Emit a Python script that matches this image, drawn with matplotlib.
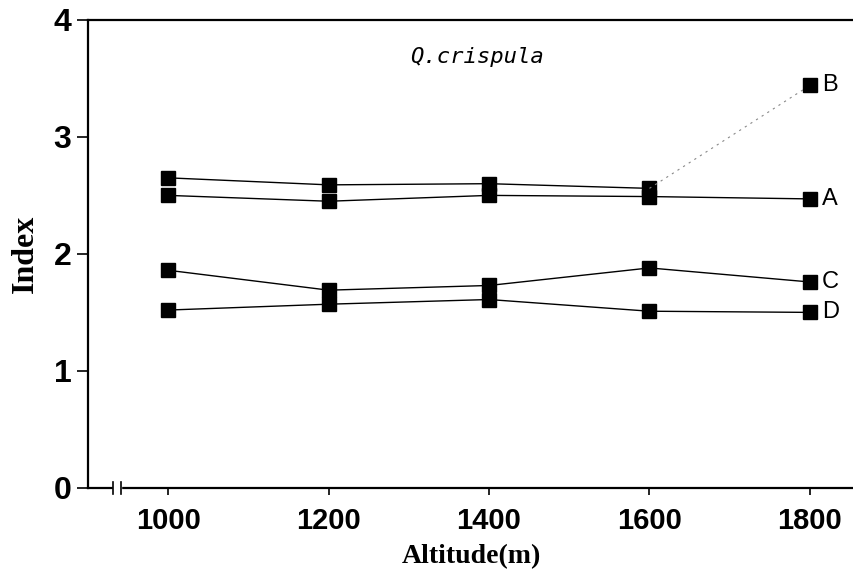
import matplotlib.pyplot as plt

# Altitude values and index series
altitude = [1000, 1200, 1400, 1600, 1800]
series_a = [2.50, 2.45, 2.50, 2.49, 2.47]
series_b = [2.65, 2.59, 2.60, 2.56, 3.44]
series_c = [1.86, 1.69, 1.73, 1.88, 1.76]
series_d = [1.52, 1.57, 1.61, 1.51, 1.50]
labels = ["A", "B", "C", "D"]

fig = plt.figure(figsize=(8.54, 5.85), dpi=100)
ax = fig.add_axes([0.103, 0.166, 0.897, 0.800])

mk = dict(marker="s", markersize=10, color="black", linewidth=1.0)

ax.plot(altitude, series_a, **mk)
# B: solid up to 1600, then faint dotted to 1800
ax.plot(altitude[:4], series_b[:4], **mk)
ax.plot(altitude[3:], series_b[3:], color="#888888", linestyle=(0, (2, 4)), linewidth=0.8)
ax.plot(altitude[4:], series_b[4:], marker="s", markersize=10, color="black", linestyle="none")
ax.plot(altitude, series_c, **mk)
ax.plot(altitude, series_d, **mk)

for lab, ser in zip(labels, [series_a, series_b, series_c, series_d]):
    ax.text(altitude[-1] + 15, ser[-1], lab, fontsize=17,
            family="Liberation Sans", va="center", ha="left")

ax.text(1385, 3.68, "Q.crispula", fontsize=16, family="DejaVu Sans Mono",
        style="italic", ha="center", va="center")

ax.set_xlim(900, 1855)
ax.set_ylim(0, 4)
ax.set_xticks(altitude)
ax.set_yticks([0, 1, 2, 3, 4])

ax.spines["right"].set_visible(False)
for s in ["left", "bottom", "top"]:
    ax.spines[s].set_linewidth(1.6)

ax.tick_params(axis="y", direction="out", length=8, width=1.2, pad=4)
ax.tick_params(axis="x", direction="out", length=5, width=1.2, pad=9)
for t in ax.get_yticklabels():
    t.set_fontweight("bold")
    t.set_family("Liberation Sans")
    t.set_fontsize(23)
for t in ax.get_xticklabels():
    t.set_fontweight("bold")
    t.set_family("Liberation Sans")
    t.set_fontsize(21)

# break mark on the x axis
ax.axvspan(931, 941, ymin=-0.01, ymax=0.006, color="white", clip_on=False, zorder=5)
for xb in (931, 941):
    ax.plot([xb, xb], [-0.05, 0.05], color="black", linewidth=1.2, clip_on=False, zorder=6)

ax.set_ylabel("Index", fontsize=23, fontweight="bold", family="Liberation Serif", labelpad=10)
ax.set_xlabel("Altitude(m)", fontsize=20, fontweight="bold", family="Liberation Serif", labelpad=6)

fig.savefig("out.png", dpi=100)
